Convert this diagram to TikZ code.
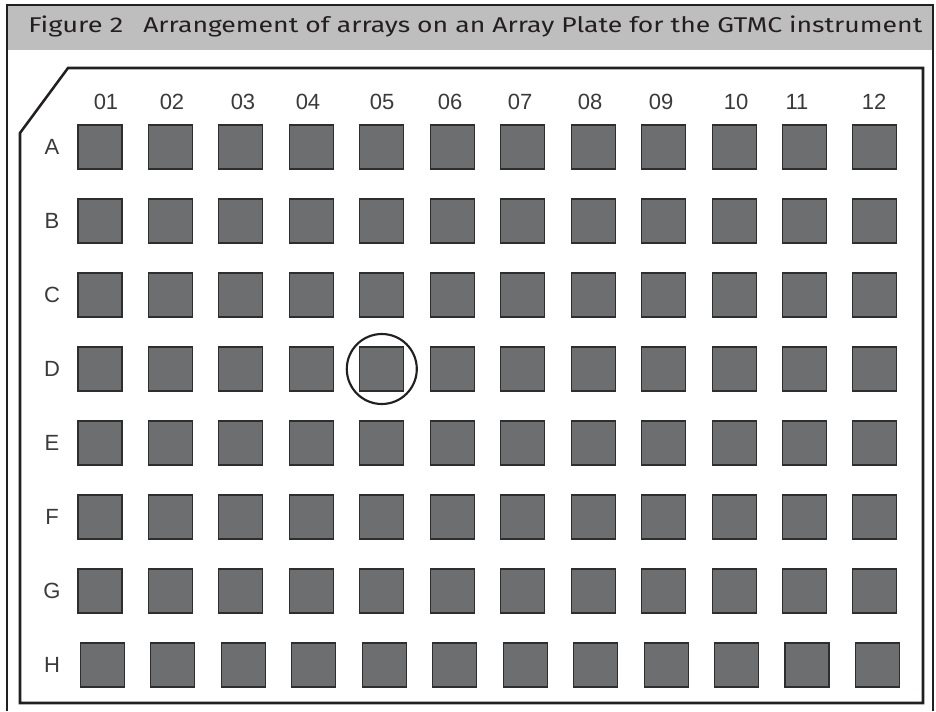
\documentclass[tikz,border=0pt]{standalone}
\usepackage{fontspec}
\usepackage{graphicx}
\setmainfont{Liberation Sans}
\newfontfamily\titlefont{Fira Sans}
\definecolor{ink}{HTML}{231F20}
\definecolor{barfill}{HTML}{BEBEBE}
\definecolor{wellfill}{HTML}{6D6E70}
\definecolor{wellline}{HTML}{2E2E2E}
\definecolor{labink}{HTML}{3A3A3A}
\tikzset{
  wellbox/.style={draw=wellline, fill=wellfill, line width=0.8pt, minimum size=33pt, inner sep=0pt, outer sep=0pt},
  rowlab/.style={text=labink, font=\fontsize{16.5}{16.5}\selectfont, inner sep=0pt},
  collab/.style={text=labink, font=\fontsize{16.5}{16.5}\selectfont, inner sep=0pt},
  titletext/.style={anchor=base west, inner sep=0pt, text=ink, font=\titlefont\fontsize{16}{16}\selectfont},
  platepath/.style={draw=ink, line width=1.9pt, line join=miter},
  framepath/.style={draw=ink, line width=0.9pt},
  ringstyle/.style={draw=ink, circle, line width=1.6pt, minimum size=52.5pt, inner sep=0pt}
}
\begin{document}
\begin{tikzpicture}[x=0.75pt,y=-0.75pt]
\useasboundingbox (0,0) rectangle (936,711);
% title bar
\fill[barfill] (7,5) rectangle (933,50);
\draw[framepath] (7,711) -- (7,5) -- (933,5) -- (933,711);
\node[titletext] (fignum) at (28,32) {\resizebox{71.25pt}{\height}{Figure 2}};
\node[titletext] (title) at (143,32) {\resizebox{584.25pt}{\height}{Arrangement of arrays on an Array Plate for the GTMC instrument}};
% plate
\draw[platepath] (68,68) -- (923,68) -- (923,703) -- (20,703) -- (20,133) -- cycle;
% column labels
\foreach \lab/\xx in {01/106,02/172,03/243,04/308,05/382,06/450,07/520,08/590,09/661,10/736,11/797,12/874}{
  \node[collab] (col\lab) at (\xx,102) {\lab};
}
% wells and row labels
\foreach \r [count=\j from 0] in {A,B,C,D,E,F,G,H}{
  \node[rowlab] (row\r) at (52,147+\j*74) {\r};
  \pgfmathsetmacro\sh{(\j==7)*2.5}
  \foreach \c in {1,...,12}{
    \node[wellbox] (s\r\c) at ({100+(\c-1)*70.45+\sh},{147+\j*74}) {};
  }
}
% highlight ring
\node[ringstyle] (ring) at (sD5) {};
\end{tikzpicture}
\end{document}
